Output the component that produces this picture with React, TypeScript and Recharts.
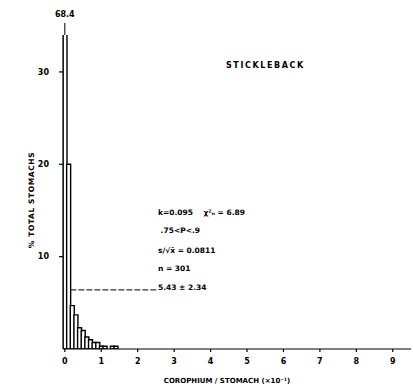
import {
  BarChart,
  Bar,
  XAxis,
  YAxis,
  ReferenceLine,
  ReferenceDot,
} from "recharts";

// corophium per stomach (x10^-1), bin centres
const bins = [0.0, 0.1, 0.2, 0.3, 0.4, 0.5, 0.6, 0.7, 0.8, 0.9, 1.0, 1.1, 1.3, 1.4];
// % of total stomachs in each bin
const pct = [68.4, 20.0, 4.7, 3.7, 2.3, 2.0, 1.3, 1.0, 0.7, 0.7, 0.3, 0.3, 0.3, 0.3];

const xTicks = [0, 1, 2, 3, 4, 5, 6, 7, 8, 9];
const yTicks = [10, 20, 30];

const yCap = 34; // top of the drawn scale, first bin runs off it
const meanLevel = 6.4; // leader line to the mean text
const leaderEnd = 2.53;

const statLines = [
  "k=0.095    χ²ₙ = 6.89",
  " .75<P<.9",
  "s/√x̄ = 0.0811",
  "n = 301",
  "5.43 ± 2.34",
];

const data = bins.map((b, i) => ({ bin: b, pct: pct[i] }));

const font = "'DejaVu Sans', sans-serif";

export default function App() {
  return (
    <div
      style={{
        position: "fixed",
        top: 0,
        left: 0,
        width: 413,
        height: 384,
        background: "#fff",
        fontFamily: font,
      }}
    >
      <BarChart
        width={413}
        height={384}
        data={data}
        margin={{ top: 35, right: 2, bottom: 0, left: 0 }}
        barCategoryGap={0}
        barGap={0}
      >
        <XAxis
          dataKey="bin"
          type="number"
          domain={[-0.05, 9.5]}
          allowDataOverflow
          ticks={xTicks}
          interval={0}
          height={35}
          stroke="#000"
          strokeWidth={1.2}
          tickSize={3}
          tickMargin={6}
          tick={{ fill: "#000", fontSize: 8, fontWeight: "bold", fontFamily: font }}
          label={{
            value: "COROPHIUM / STOMACH (×10⁻¹)",
            position: "insideBottom",
            offset: 1,
            dx: -10,
            fill: "#000",
            fontSize: 7,
            fontWeight: "bold",
            fontFamily: font,
          }}
        />
        <YAxis
          type="number"
          domain={[0, yCap]}
          allowDataOverflow
          ticks={yTicks}
          width={63}
          stroke="#000"
          strokeWidth={1.2}
          tickSize={4}
          tickMargin={10}
          tick={{ fill: "#000", fontSize: 8, fontWeight: "bold", fontFamily: font }}
          label={{
            content: ({ viewBox }: any) => {
              const cx = viewBox.x + 31;
              const cy = viewBox.y + viewBox.height / 2 + 8;
              return (
                <text
                  x={cx}
                  y={cy}
                  transform={`rotate(-90, ${cx}, ${cy})`}
                  textAnchor="middle"
                  dominantBaseline="central"
                  fill="#000"
                  fontSize={7.5}
                  fontWeight="bold"
                  fontFamily={font}
                  letterSpacing={0.6}
                >
                  % TOTAL STOMACHS
                </text>
              );
            },
          }}
        />
        <Bar
          dataKey="pct"
          fill="#fff"
          stroke="#000"
          strokeWidth={1.4}
          isAnimationActive={false}
        />
        <ReferenceLine
          segment={[
            { x: bins[1] + 0.05, y: meanLevel },
            { x: leaderEnd, y: meanLevel },
          ]}
          stroke="#000"
          strokeDasharray="6 2"
          ifOverflow="visible"
        />
        <ReferenceLine
          segment={[
            { x: bins[0], y: yCap },
            { x: bins[0], y: 35.3 },
          ]}
          stroke="#000"
          ifOverflow="visible"
        />
        <ReferenceDot
          x={bins[0]}
          y={36.3}
          r={0}
          ifOverflow="visible"
          label={{
            value: String(pct[0]),
            position: "center",
            fill: "#000",
            fontSize: 8,
            fontWeight: "bold",
            fontFamily: font,
          }}
        />
      </BarChart>

      <div
        style={{
          position: "absolute",
          left: 226,
          top: 61,
          fontSize: 8,
          lineHeight: "10px",
          fontWeight: "bold",
          letterSpacing: 1.6,
        }}
      >
        STICKLEBACK
      </div>

      {statLines.map((t, i) => (
        <div
          key={i}
          style={{
            position: "absolute",
            left: 158,
            top: [208, 226, 246, 264, 283][i],
            fontSize: 7.5,
            lineHeight: "10px",
            fontWeight: "bold",
            whiteSpace: "pre",
          }}
        >
          {t}
        </div>
      ))}
    </div>
  );
}
